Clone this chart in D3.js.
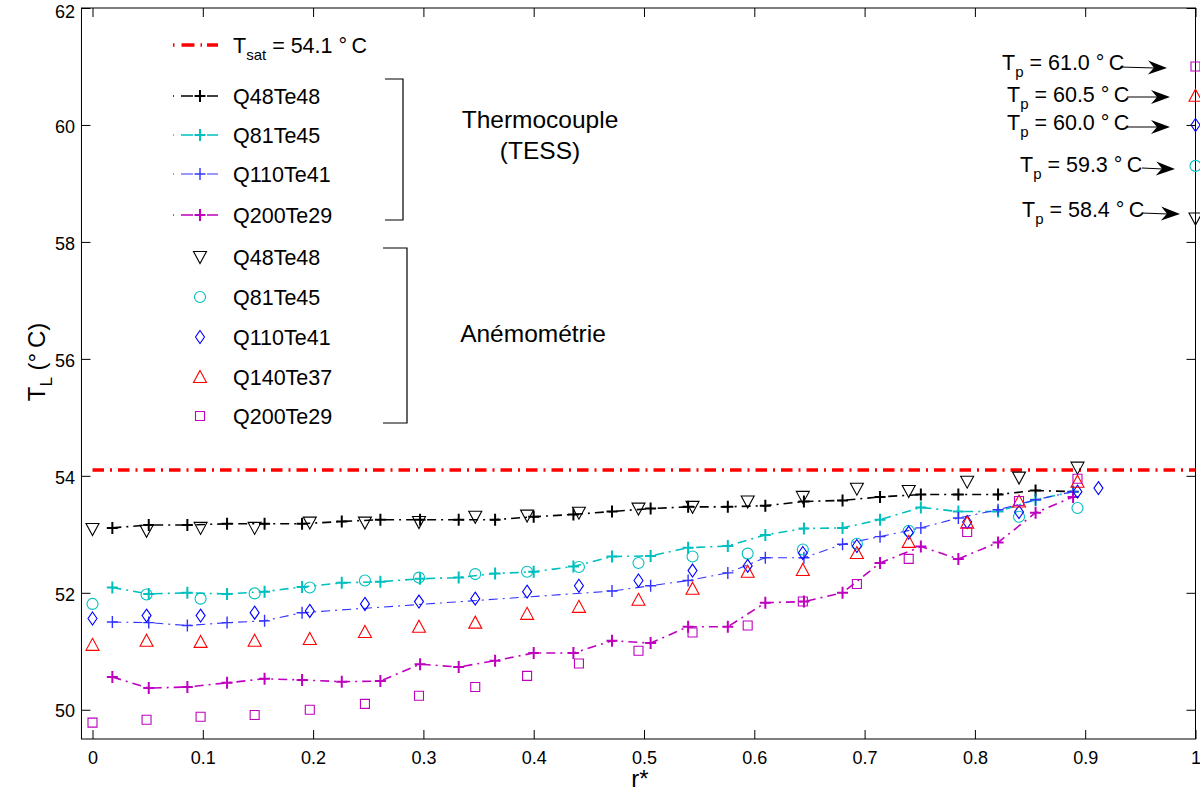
<!DOCTYPE html>
<html><head><meta charset="utf-8">
<script src="https://cdn.jsdelivr.net/npm/d3@7"></script>
<style>
body{margin:0;background:#fff}
svg{display:block}
text{font-family:"Liberation Sans",Arial,Helvetica,sans-serif;fill:#000}
</style>
</head><body>
<svg id="chart" width="1200" height="794"></svg>
<script>
// ---------- DATA ----------
const xTicks = [0,0.1,0.2,0.3,0.4,0.5,0.6,0.7,0.8,0.9,1];
const yTicks = [50,52,54,56,58,60,62];
const Tsat = 54.1;

// thermocouple (TESS) radial positions and temperatures
const rTC = [0.018,0.051,0.086,0.122,0.156,0.190,0.226,0.261,0.297,0.332,0.365,0.400,0.436,0.471,0.506,0.540,0.576,0.610,0.645,0.680,0.714,0.751,0.785,0.821,0.855,0.889];
const tcQ48Te48  = [53.11,53.16,53.16,53.18,53.18,53.18,53.22,53.25,53.25,53.25,53.25,53.30,53.34,53.39,53.44,53.47,53.47,53.49,53.56,53.58,53.64,53.68,53.68,53.68,53.75,53.73];
const tcQ81Te45  = [52.09,51.98,52.00,51.98,52.02,52.10,52.17,52.19,52.24,52.26,52.33,52.36,52.45,52.62,52.63,52.77,52.80,52.99,53.10,53.11,53.25,53.46,53.39,53.39,53.59,53.73];
const tcQ110Te41 = [51.50,51.49,51.44,51.49,51.52,51.66,null,null,null,null,null,null,null,52.03,52.12,52.21,52.34,52.60,52.60,52.83,52.96,53.11,53.28,53.42,53.59,53.73];
const tcQ200Te29 = [50.56,50.37,50.39,50.46,50.53,50.51,50.48,50.49,50.78,50.73,50.84,50.97,50.97,51.18,51.14,51.42,51.42,51.83,51.85,52.00,52.51,52.79,52.58,52.86,53.37,53.64];

// anemometry radial positions and temperatures
const rAn = [0,0.049,0.098,0.147,0.197,0.247,0.296,0.347,0.394,0.441,0.495,0.544,0.594,0.644,0.693,0.740,0.793,0.840,0.893,0.912];
const anQ48Te48  = [53.09,53.06,53.11,53.11,53.20,53.20,53.21,53.30,53.32,53.37,53.44,53.47,53.56,53.64,53.78,53.74,53.90,53.97,54.14,null];
const anQ81Te45  = [51.81,51.97,51.90,51.99,52.09,52.21,52.26,52.32,52.36,52.44,52.51,52.62,52.67,52.74,52.84,53.06,null,53.30,53.45,null];
const anQ110Te41 = [51.56,51.61,51.61,51.66,51.69,51.81,51.85,51.90,52.02,52.12,52.21,52.38,52.46,52.68,52.80,53.03,53.21,53.38,53.73,53.79];
const anQ140Te37 = [51.11,51.18,51.16,51.18,51.21,51.33,51.42,51.49,51.64,51.76,51.88,52.07,52.36,52.39,52.68,52.87,53.20,53.56,53.90,null];
const anQ200Te29 = [49.78,49.83,49.88,49.91,50.00,50.10,50.24,50.39,50.58,50.79,51.01,51.32,51.44,51.85,52.15,52.58,53.04,53.57,53.95,null];

// wall temperatures (plotted at r* = 1)
const tpValues = [61.0, 60.5, 60.0, 59.3, 58.4];
const tpLabels = ["61.0","60.5","60.0","59.3","58.4"];
const tpMarkers = ["square","triUp","diamond","circle","triDown"];
const tpColors = ["#bf00bf","#ff0000","#0000ff","#00bfbf","#000000"];

const tcNames = ["Q48Te48","Q81Te45","Q110Te41","Q200Te29"];
const tcColors = ["#000000","#00bfbf","#3333ff","#bf00bf"];
const anNames = ["Q48Te48","Q81Te45","Q110Te41","Q140Te37","Q200Te29"];
const anColors = ["#000000","#00bfbf","#0000ff","#ff0000","#bf00bf"];
const anMarkers = ["triDown","circle","diamond","triUp","square"];

// ---------- CHART ----------
const svg = d3.select("#chart");
const x = d3.scaleLinear().domain([0,1]).range([92.5,1195.5]);
const y = d3.scaleLinear().domain([49.5,62]).range([739,8]);
const L = x(-0.01), R = x(1), T = y(62), B = y(49.5);

function markerPath(type){
  switch(type){
    case "triDown": return "M-6.5,-5.5L6.5,-5.5L0,6.5Z";
    case "triUp": return "M0,-6.5L6.5,5.5L-6.5,5.5Z";
    case "diamond": return "M0,-6.5L4.5,0L0,6.5L-4.5,0Z";
    case "square": return "M-4.5,-4.5H4.5V4.5H-4.5Z";
    case "circle": return "M5.5,0A5.5,5.5 0 1 1 -5.5,0A5.5,5.5 0 1 1 5.5,0Z";
    case "plus": return "M-5.5,0H5.5M0,-6V6";
  }
}

// axes box and ticks
const gAx = svg.append("g");
gAx.append("g").attr("transform",`translate(0,${B})`)
  .call(d3.axisBottom(x).tickValues(xTicks).tickSize(-9).tickPadding(12).tickFormat(d3.format("")));
gAx.append("g").attr("transform",`translate(0,${T})`)
  .call(d3.axisTop(x).tickValues(xTicks).tickSize(-9).tickFormat(""));
const yAxG = gAx.append("g").attr("transform",`translate(${L},0)`)
  .call(d3.axisLeft(y).tickValues(yTicks).tickSize(-9).tickPadding(6.5));
gAx.append("g").attr("transform",`translate(${R},0)`)
  .call(d3.axisRight(y).tickValues(yTicks).tickSize(-9).tickFormat(""));
gAx.selectAll(".domain").remove();
gAx.selectAll(".tick line").attr("stroke","#000").attr("stroke-width",1);
gAx.selectAll(".tick text").attr("font-size",18).attr("font-family",'"Liberation Sans",Arial,sans-serif').attr("fill","#000");
yAxG.selectAll(".tick text").attr("dy",d=>d===62?"0.55em":"0.4em");
gAx.append("rect").attr("x",L).attr("y",T).attr("width",R-L).attr("height",B-T)
  .attr("fill","none").attr("stroke","#000").attr("stroke-width",1);

// axis labels
svg.append("text").attr("x",640).attr("y",787).attr("text-anchor","middle").attr("font-size",24).text("r*");
const yl = svg.append("text").attr("transform","translate(45,362) rotate(-90)").attr("text-anchor","middle").attr("font-size",24);
yl.append("tspan").text("T");
yl.append("tspan").attr("font-size",17).attr("dy",7).text("L");
yl.append("tspan").attr("dy",-7).text(" (°\u2009C)");

// Tsat line
svg.append("line").attr("x1",x(0)).attr("x2",x(1)).attr("y1",y(Tsat)).attr("y2",y(Tsat))
  .attr("stroke","#ff0000").attr("stroke-width",3.5).attr("stroke-dasharray","11.5,6,2,6");

// thermocouple lines
const tcSeries = [tcQ48Te48,tcQ81Te45,tcQ110Te41,tcQ200Te29];
const line = d3.line().x(d=>x(d[0])).y(d=>y(d[1]));
tcSeries.forEach((vals,i)=>{
  const pts = rTC.map((r,j)=>[r,vals[j]]).filter(d=>d[1]!=null);
  const w = i===2 ? 1.1 : 1.6;
  svg.append("path").datum(pts).attr("d",line).attr("fill","none")
    .attr("stroke",tcColors[i]).attr("stroke-width",w).attr("stroke-dasharray","9,5,2,5");
  svg.append("g").selectAll("path").data(pts).join("path")
    .attr("transform",d=>`translate(${x(d[0])},${y(d[1])})`)
    .attr("d",markerPath("plus")).attr("fill","none")
    .attr("stroke",tcColors[i]).attr("stroke-width",i===2?1.4:2);
});

// anemometry markers
const anSeries = [anQ48Te48,anQ81Te45,anQ110Te41,anQ140Te37,anQ200Te29];
anSeries.forEach((vals,i)=>{
  const pts = rAn.map((r,j)=>[r,vals[j]]).filter(d=>d[1]!=null);
  svg.append("g").selectAll("path").data(pts).join("path")
    .attr("transform",d=>`translate(${x(d[0])},${y(d[1])})`)
    .attr("d",markerPath(anMarkers[i])).attr("fill","none")
    .attr("stroke",anColors[i]).attr("stroke-width",1.1);
});

// Tp markers at r* = 1
svg.append("g").selectAll("path").data(tpValues).join("path")
  .attr("transform",d=>`translate(${x(1)},${y(d)})`)
  .attr("d",(d,i)=>markerPath(tpMarkers[i])).attr("fill","none")
  .attr("stroke",(d,i)=>tpColors[i]).attr("stroke-width",1.1);

// Tp annotations with arrows
const annX = [1002,1007,1007,1020,1022];
const annY = [70,102,130,172,217];
const arrX1 = [1120,1127,1127,1142,1142];
const arrX2 = [1167,1170,1170,1175,1180];
const arrY1 = [67,97,127,168,213];
const arrY2 = [68,97,127,169,214];
tpLabels.forEach((lab,i)=>{
  const t = svg.append("text").attr("x",annX[i]).attr("y",annY[i]).attr("font-size",21.5);
  t.append("tspan").text("T");
  t.append("tspan").attr("font-size",15).attr("dy",7).text("p");
  t.append("tspan").attr("dy",-7).text(` = ${lab} °\u2009C`);
  const x1=arrX1[i], x2=arrX2[i], y1=arrY1[i], y2=arrY2[i];
  const ang = Math.atan2(y2-y1,x2-x1)*180/Math.PI;
  svg.append("line").attr("x1",x1).attr("y1",y1).attr("x2",x2-12).attr("y2",y2)
    .attr("stroke","#000").attr("stroke-width",1);
  svg.append("path").attr("transform",`translate(${x2},${y2}) rotate(${ang})`)
    .attr("d","M0,0L-19,-7L-13,0L-19,7Z").attr("fill","#000");
});

// legend
const lgX1 = 173, lgX2 = 219, lgTx = 233, lgMx = 200;
const lg = svg.append("g");
lg.append("line").attr("x1",lgX1).attr("x2",lgX2).attr("y1",45).attr("y2",45)
  .attr("stroke","#ff0000").attr("stroke-width",3.5).attr("stroke-dasharray","1.5,7,13,6,1.5,5,11,50");
const ts = lg.append("text").attr("x",lgTx).attr("y",52.5).attr("font-size",21.5);
ts.append("tspan").text("T");
ts.append("tspan").attr("font-size",15).attr("dy",7).text("sat");
ts.append("tspan").attr("dy",-7).text(` = ${Tsat} °\u2009C`);

const tcRowY = [96,135,174,215];
tcNames.forEach((n,i)=>{
  lg.append("line").attr("x1",lgX1).attr("x2",lgX2).attr("y1",tcRowY[i]).attr("y2",tcRowY[i])
    .attr("stroke",tcColors[i]).attr("stroke-width",i===2?1.1:1.6).attr("stroke-dasharray","1,7,12,14,11,50");
  lg.append("path").attr("transform",`translate(${lgMx},${tcRowY[i]})`).attr("d",markerPath("plus"))
    .attr("fill","none").attr("stroke",tcColors[i]).attr("stroke-width",i===2?1.4:2);
  lg.append("text").attr("x",lgTx).attr("y",tcRowY[i]+8).attr("font-size",21.5).text(n);
});
const anRowY = [257,297,337,377,416];
anNames.forEach((n,i)=>{
  lg.append("path").attr("transform",`translate(${lgMx},${anRowY[i]})`).attr("d",markerPath(anMarkers[i]))
    .attr("fill","none").attr("stroke",anColors[i]).attr("stroke-width",1.1);
  lg.append("text").attr("x",lgTx).attr("y",anRowY[i]+8).attr("font-size",21.5).text(n);
});

// brackets
lg.append("path").attr("d","M385,79H403V220H385").attr("fill","none").attr("stroke","#000").attr("stroke-width",1.2);
lg.append("path").attr("d","M383,248H407V423H383").attr("fill","none").attr("stroke","#000").attr("stroke-width",1.2);

// group labels
svg.append("text").attr("x",540).attr("y",128).attr("text-anchor","middle").attr("font-size",24.5).text("Thermocouple");
svg.append("text").attr("x",540).attr("y",159).attr("text-anchor","middle").attr("font-size",24.5).text("(TESS)");
svg.append("text").attr("x",533).attr("y",342).attr("text-anchor","middle").attr("font-size",24.5).text("Anémométrie");
</script>
</body></html>
